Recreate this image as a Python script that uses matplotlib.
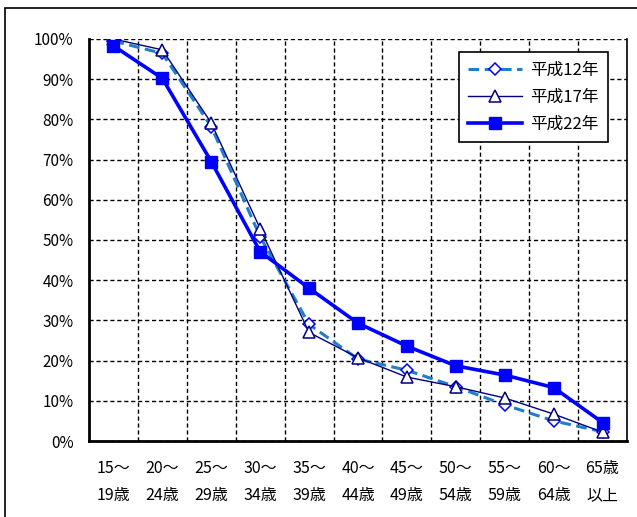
import matplotlib
matplotlib.use("Agg")
import matplotlib.pyplot as plt
from matplotlib.patches import Rectangle
from matplotlib.ticker import FuncFormatter, MultipleLocator, FixedLocator

plt.rcParams["font.family"] = ["Noto Sans CJK JP", "DejaVu Sans"]

# age groups (x axis)
age_labels = [
    "15～\n19歳", "20～\n24歳", "25～\n29歳", "30～\n34歳", "35～\n39歳",
    "40～\n44歳", "45～\n49歳", "50～\n54歳", "55～\n59歳", "60～\n64歳",
    "65歳\n以上",
]

# rates in %
h12 = [99.5, 96.4, 78.2, 50.8, 29.0, 20.4, 17.6, 13.5, 9.0, 5.0, 2.3]
h17 = [100.0, 97.3, 79.1, 52.8, 27.0, 20.7, 15.9, 13.5, 10.7, 6.7, 2.2]
h22 = [98.3, 90.2, 69.5, 47.1, 38.0, 29.3, 23.6, 18.7, 16.4, 13.3, 4.6]

fig = plt.figure(figsize=(6.37, 5.17), dpi=100)
ax = fig.add_axes([89 / 637, 76 / 517, 538 / 637, 402 / 517])

# outer chart-area frame (runs off the right/bottom edge like the original)
fig.patches.append(Rectangle((5 / 637, -0.05), 1.0, 1.05 - 8 / 517,
                             transform=fig.transFigure, fill=False,
                             edgecolor="black", linewidth=1.2))

x = list(range(len(age_labels)))

ax.plot(x, h12, color="#1F7FC8", linestyle=(0, (3.5, 1.8)), linewidth=2.2,
        marker="D", markersize=6.5, markerfacecolor="white",
        markeredgecolor="#0000FF", markeredgewidth=1.1, label="平成12年", zorder=3)
ax.plot(x, h17, color="#000080", linewidth=1.0,
        marker="^", markersize=9, markerfacecolor="white",
        markeredgecolor="#000080", markeredgewidth=1.1, label="平成17年", zorder=4)
ax.plot(x, h22, color="#0000FF", linewidth=2.6,
        marker="s", markersize=9, markerfacecolor="#0000FF",
        markeredgecolor="#0000FF", label="平成22年", zorder=5)

ax.set_xlim(-0.5, len(age_labels) - 0.5)
ax.set_ylim(0, 100)
ax.yaxis.set_major_locator(MultipleLocator(10))
ax.yaxis.set_major_formatter(FuncFormatter(lambda v, _: f"{v:.0f}%"))
ax.set_xticks(x)
ax.set_xticklabels(age_labels, fontsize=11.5, linespacing=1.75)
ax.xaxis.set_minor_locator(FixedLocator([i + 0.5 for i in x[:-1]]))
ax.tick_params(axis="both", which="both", length=0)
ax.tick_params(axis="y", labelsize=11, pad=11)
ax.tick_params(axis="x", pad=14)

ax.grid(True, axis="y", which="major", color="black", linestyle=(0, (3, 2)), linewidth=1.0)
ax.grid(True, axis="x", which="minor", color="black", linestyle=(0, (3, 2)), linewidth=1.0)
ax.grid(False, axis="x", which="major")
ax.set_axisbelow(True)

ax.spines["left"].set_linewidth(2.0)
ax.spines["bottom"].set_linewidth(2.0)
ax.spines["top"].set_visible(False)
ax.spines["right"].set_linewidth(1.2)

leg = ax.legend(loc="upper left", bbox_to_anchor=(0.688, 0.967), fontsize=12,
                frameon=True, fancybox=False, edgecolor="black", framealpha=1.0,
                handlelength=3.2, labelspacing=0.6, borderpad=0.55, handletextpad=0.5,
                borderaxespad=0)
leg.get_frame().set_linewidth(1.2)

fig.savefig("out.png", dpi=100)
